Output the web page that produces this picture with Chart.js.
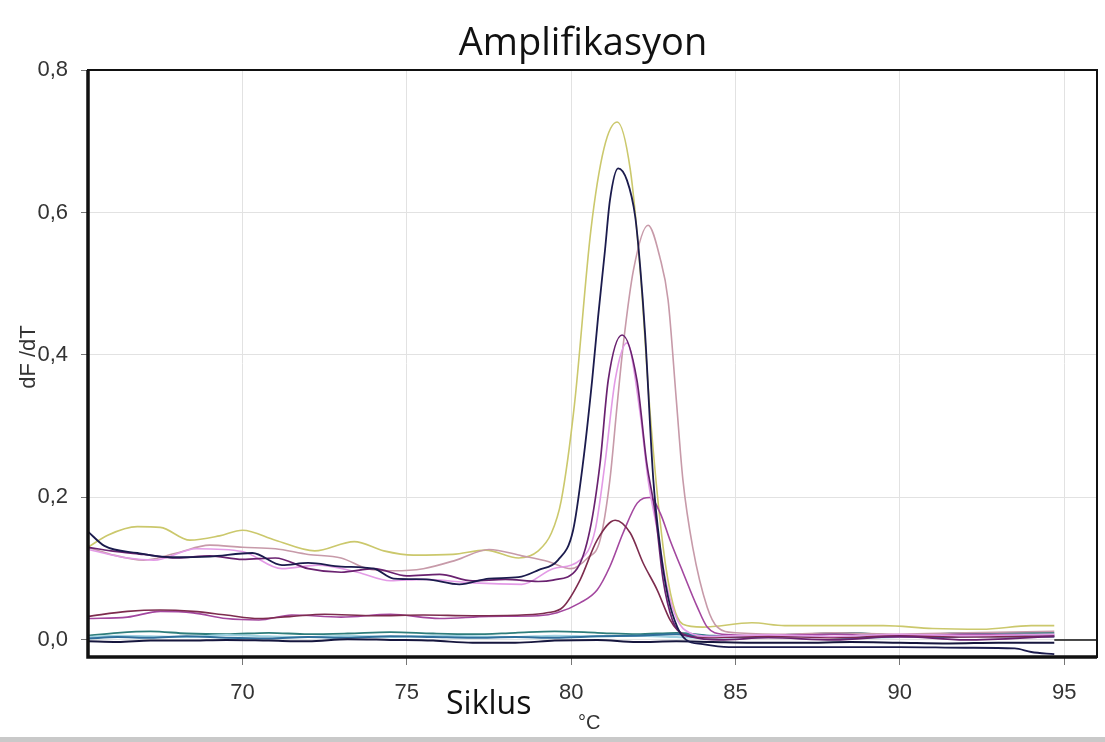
<!DOCTYPE html>
<html>
<head>
<meta charset="utf-8">
<script src="https://cdn.jsdelivr.net/npm/chart.js@4.4.1/dist/chart.umd.min.js"></script>
<style>
  body { margin: 0; background: #fff; }
  #wrap { width: 1105px; height: 742px; position: relative; }
</style>
</head>
<body>
<div id="wrap"><canvas id="melt"></canvas></div>
<script>
// Melt curve data (temperature in °C, dF/dT)
const xTicks = [70, 75, 80, 85, 90, 95];
const yTicks = [0, 0.2, 0.4, 0.6, 0.8];

const navyT = [65.3, 65.8, 66.8, 67.8, 69.0, 70.3, 71.2, 72.0, 73.0, 74.0, 74.6, 75.6, 76.6, 77.5, 78.4, 79.0, 79.6, 80.06, 80.36, 80.64, 80.82, 81.03, 81.18, 81.43, 81.7, 81.95, 82.1, 82.25, 82.5, 82.71, 82.95, 83.23, 83.5, 84.0, 84.8, 86.0, 88.0, 90.0, 92.0, 93.5, 94.0, 94.7];
const navyY = [0.152, 0.132, 0.122, 0.116, 0.117, 0.122, 0.105, 0.108, 0.103, 0.1, 0.086, 0.085, 0.078, 0.086, 0.088, 0.098, 0.112, 0.154, 0.248, 0.365, 0.453, 0.547, 0.617, 0.662, 0.645, 0.594, 0.524, 0.43, 0.225, 0.13, 0.06, 0.018, 0.0, -0.006, -0.01, -0.01, -0.01, -0.01, -0.011, -0.012, -0.017, -0.02];

const yellowT = [65.3, 65.9, 66.8, 67.5, 68.4, 69.3, 70.0, 71.0, 72.2, 73.4, 74.3, 75.2, 76.4, 77.4, 78.4, 79.0, 79.4, 79.7, 80.1, 80.6, 81.0, 81.4, 81.8, 82.1, 82.4, 82.8, 83.1, 83.4, 84.0, 85.5, 86.5, 88.0, 89.5, 91.0, 92.5, 94.0, 94.7];
const yellowY = [0.13, 0.147, 0.159, 0.158, 0.14, 0.146, 0.154, 0.14, 0.125, 0.138, 0.125, 0.119, 0.12, 0.126, 0.115, 0.125, 0.15, 0.196, 0.33, 0.575, 0.69, 0.727, 0.66, 0.52, 0.32, 0.13, 0.05, 0.022, 0.018, 0.024, 0.02, 0.02, 0.02, 0.016, 0.015, 0.02, 0.02];

const mauveT = [65.3, 66.0, 67.0, 68.0, 69.0, 70.0, 71.0, 72.0, 73.0, 73.8, 74.6, 75.5, 76.5, 77.5, 78.5, 79.3, 80.0, 80.5, 80.88, 81.18, 81.4, 81.6, 81.9, 82.34, 82.7, 82.95, 83.2, 83.4, 83.7, 84.14, 84.45, 85.0, 86.5, 88.0, 90.0, 92.0, 94.7];
const mauveY = [0.13, 0.12, 0.112, 0.122, 0.133, 0.13, 0.128, 0.12, 0.115, 0.1, 0.097, 0.1, 0.112, 0.127, 0.118, 0.11, 0.1, 0.115, 0.14, 0.225, 0.33, 0.42, 0.52, 0.582, 0.537, 0.477, 0.337, 0.225, 0.13, 0.046, 0.018, 0.01, 0.008, 0.01, 0.008, 0.01, 0.012];

const purpleT = [65.3, 66.0, 67.0, 68.0, 69.0, 70.0, 71.0, 72.0, 73.0, 74.0, 75.0, 76.0, 77.0, 78.0, 79.0, 79.45, 80.18, 80.57, 80.88, 81.13, 81.55, 82.0, 82.3, 82.56, 82.8, 83.08, 83.32, 83.6, 84.5, 86.0, 88.0, 90.0, 92.0, 94.7];
const purpleY = [0.13, 0.125, 0.12, 0.115, 0.118, 0.113, 0.115, 0.1, 0.095, 0.1, 0.09, 0.092, 0.083, 0.085, 0.082, 0.084, 0.1, 0.154, 0.248, 0.365, 0.428, 0.365, 0.248, 0.178, 0.084, 0.028, 0.01, 0.005, 0.0, 0.003, 0.0, 0.005, 0.0, 0.005];

const lilacT = [65.3, 66.5, 67.3, 68.6, 70.0, 71.2, 72.3, 73.5, 74.5, 75.5, 77.0, 78.5, 79.45, 80.27, 80.73, 81.03, 81.34, 81.7, 82.1, 82.34, 82.62, 82.92, 83.23, 83.6, 84.2, 86.0, 88.0, 90.0, 92.0, 94.7];
const lilacY = [0.127, 0.115, 0.112, 0.128, 0.124, 0.1, 0.105, 0.095, 0.083, 0.085, 0.08, 0.078, 0.1, 0.112, 0.154, 0.248, 0.365, 0.417, 0.318, 0.225, 0.154, 0.074, 0.028, 0.01, 0.005, 0.007, 0.005, 0.008, 0.006, 0.008];

const brownT = [65.3, 66.5, 67.5, 68.5, 69.5, 70.5, 71.5, 72.5, 74.0, 75.5, 77.0, 78.5, 79.26, 79.75, 80.27, 80.79, 81.34, 81.8, 82.19, 82.62, 83.01, 83.23, 83.6, 84.2, 86.0, 88.0, 90.0, 92.0, 94.7];
const brownY = [0.033, 0.04, 0.042, 0.04, 0.035, 0.03, 0.033, 0.036, 0.034, 0.035, 0.034, 0.035, 0.038, 0.046, 0.084, 0.14, 0.168, 0.15, 0.108, 0.07, 0.028, 0.014, 0.005, 0.003, 0.005, 0.003, 0.006, 0.004, 0.005];

const magentaT = [65.3, 66.5, 67.5, 68.5, 69.5, 70.5, 71.5, 73.0, 74.5, 76.0, 77.5, 79.0, 79.57, 80.27, 80.79, 81.18, 81.58, 82.01, 82.4, 82.71, 83.01, 83.41, 83.84, 84.14, 84.6, 86.0, 88.0, 90.0, 92.0, 94.7];
const magentaY = [0.03, 0.032, 0.04, 0.038, 0.03, 0.028, 0.035, 0.032, 0.036, 0.03, 0.033, 0.034, 0.038, 0.052, 0.07, 0.103, 0.15, 0.192, 0.2, 0.178, 0.14, 0.094, 0.046, 0.018, 0.008, 0.006, 0.008, 0.004, 0.008, 0.007];

// flat curves near zero
const baseT = [65.3, 66.2, 67.2, 68.3, 69.5, 70.8, 72.0, 73.2, 74.5, 75.8, 77.0, 78.3, 79.5, 80.8, 82.0, 83.2, 84.3, 85.5, 87.0, 88.5, 90.0, 91.5, 93.0, 94.7];
const tealY = [0.006, 0.01, 0.012, 0.009, 0.008, 0.01, 0.008, 0.009, 0.011, 0.009, 0.008, 0.01, 0.012, 0.01, 0.008, 0.01, 0.006, 0.005, 0.008, 0.01, 0.006, 0.009, 0.01, 0.01];
const cyanY = [0.004, 0.006, 0.005, 0.004, 0.007, 0.005, 0.004, 0.006, 0.004, 0.006, 0.005, 0.004, 0.006, 0.005, 0.006, 0.004, 0.003, 0.004, 0.005, 0.003, 0.004, 0.006, 0.004, 0.004];
const blueY = [0.002, 0.004, 0.003, 0.005, 0.003, 0.002, 0.004, 0.003, 0.005, 0.004, 0.003, 0.004, 0.003, 0.005, 0.006, 0.008, 0.005, 0.004, 0.006, 0.003, 0.005, 0.004, 0.006, 0.005];
const darkY = [-0.002, -0.003, -0.001, -0.001, 0.0, -0.001, -0.002, 0.001, 0.0, -0.001, -0.004, -0.004, -0.001, 0.0, -0.003, -0.002, -0.003, -0.004, -0.004, -0.003, -0.004, -0.005, -0.004, -0.004];

const zeroT = [94.7, 96];
const zeroY = [0, 0];

function pts(t, v) {
    return t.map((x, i) => ({ x: x, y: v[i] }));
}

function line(label, t, v, color, width) {
    return {
        label: label,
        data: pts(t, v),
        borderColor: color,
        borderWidth: width || 1.6,
        pointRadius: 0,
        cubicInterpolationMode: 'monotone',
        fill: false
    };
}

// first dataset is drawn on top
const datasets = [
    line('navy', navyT, navyY, '#1b1b4d', 1.8),
    line('purple', purpleT, purpleY, '#6a2270', 1.7),
    line('lilac', lilacT, lilacY, '#e39be6'),
    line('brown', brownT, brownY, '#7d2c4e'),
    line('magenta', magentaT, magentaY, '#a3479f'),
    line('mauve', mauveT, mauveY, '#c79aa9'),
    line('yellow', yellowT, yellowY, '#cbc86c'),
    line('dark', baseT, darkY, '#16163e', 2),
    line('blue', baseT, blueY, '#2f6f9c', 2),
    line('cyan', baseT, cyanY, '#9fd2e2', 2),
    line('teal', baseT, tealY, '#2e7d7b', 1.8),
    line('zero', zeroT, zeroY, '#111111', 1.5)
];

const tickFont = { family: 'Liberation Sans, Arial, sans-serif', size: 22 };

const framePlugin = {
    id: 'frame',
    afterDraw(chart) {
        const ctx = chart.ctx;
        const a = chart.chartArea;
        ctx.save();
        // plot frame
        ctx.strokeStyle = '#111';
        ctx.lineWidth = 2;
        ctx.strokeRect(a.left, a.top, a.right - a.left, a.bottom - a.top);
        ctx.lineWidth = 3.5;
        ctx.beginPath();
        ctx.moveTo(a.left, a.top);
        ctx.lineTo(a.left, a.bottom);
        ctx.lineTo(a.right, a.bottom);
        ctx.stroke();

        // titles
        ctx.fillStyle = '#111';
        ctx.textAlign = 'center';
        ctx.textBaseline = 'alphabetic';
        ctx.font = '38px "Open Sans", "Noto Sans", sans-serif';
        ctx.fillText('Amplifikasyon', 583, 55);
        ctx.textAlign = 'left';
        ctx.font = '32px "Open Sans", "Noto Sans", sans-serif';
        ctx.fillText('Siklus', 446, 714);
        ctx.fillStyle = '#333';
        ctx.font = '20px "Liberation Sans", Arial, sans-serif';
        ctx.fillText('°C', 578, 729);

        // y axis title
        ctx.save();
        ctx.translate(35, 357);
        ctx.rotate(-Math.PI / 2);
        ctx.textAlign = 'center';
        ctx.font = '22px "Liberation Sans", Arial, sans-serif';
        ctx.fillText('dF /dT', 0, 0);
        ctx.restore();

        // grey strip at the bottom of the window
        ctx.fillStyle = '#c9c9c9';
        ctx.fillRect(0, 737, chart.width, 5);
        ctx.restore();
    }
};

new Chart(document.getElementById('melt'), {
    type: 'line',
    data: { datasets: datasets },
    options: {
        responsive: true,
        maintainAspectRatio: false,
        animation: false,
        layout: { padding: { top: 70, right: 8, left: 0, bottom: 0 } },
        plugins: {
            legend: { display: false },
            tooltip: { enabled: false }
        },
        scales: {
            x: {
                type: 'linear',
                min: 65.3,
                max: 96,
                afterBuildTicks: s => { s.ticks = xTicks.map(v => ({ value: v })); },
                afterFit: s => { s.height = 85; },
                border: { display: false },
                grid: { color: '#e2e2e2', tickColor: '#777', tickLength: 8 },
                ticks: {
                    font: tickFont,
                    color: '#333',
                    padding: 15,
                    maxRotation: 0,
                    autoSkip: false,
                    callback: v => String(v)
                }
            },
            y: {
                min: -0.024,
                max: 0.8,
                afterBuildTicks: s => { s.ticks = yTicks.map(v => ({ value: v })); },
                afterFit: s => { s.width = 88; },
                border: { display: false },
                grid: { color: '#e2e2e2', tickColor: '#777', tickLength: 7 },
                ticks: {
                    font: tickFont,
                    color: '#333',
                    padding: 13,
                    callback: v => v.toFixed(1).replace('.', ',')
                }
            }
        }
    },
    plugins: [framePlugin]
});
</script>
</body>
</html>
